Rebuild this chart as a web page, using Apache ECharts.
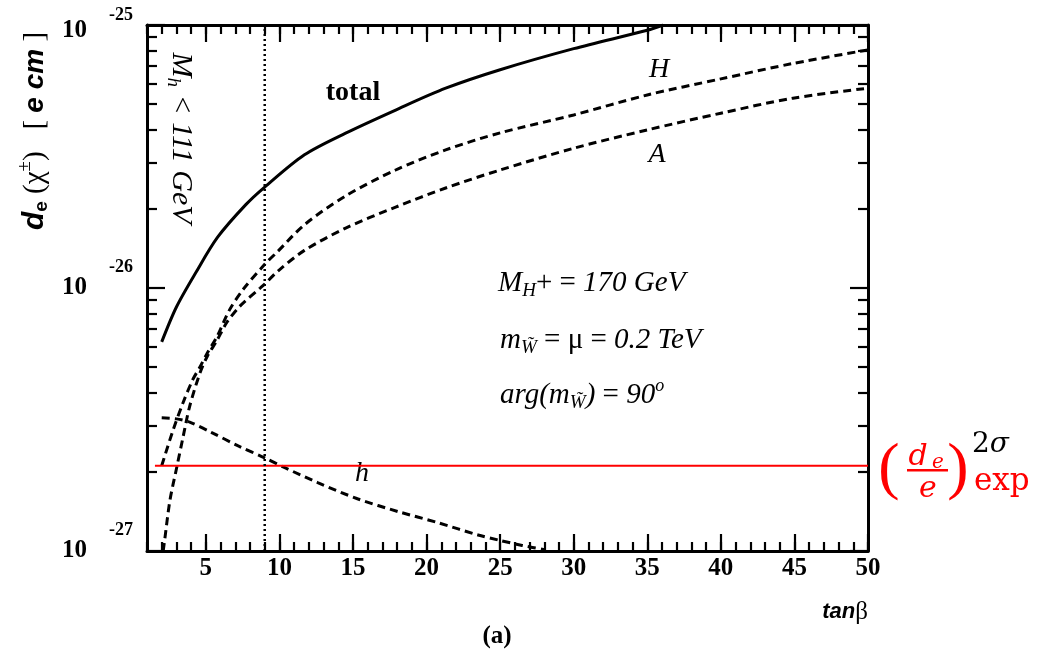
<!DOCTYPE html>
<html><head><meta charset="utf-8">
<script src="https://cdn.jsdelivr.net/npm/echarts@6/dist/echarts.min.js"></script>
<style>html,body{margin:0;padding:0;background:#fff}#c{width:1043px;height:663px}</style>
</head><body><div id="c"></div>
<script>
// ---- data ----
const xMajorTicks = [5, 10, 15, 20, 25, 30, 35, 40, 45, 50];
const yDecadeTicks = [1e-27, 1e-26, 1e-25];
const yMinorTicks = [2e-27, 3e-27, 4e-27, 5e-27, 6e-27, 7e-27, 8e-27, 9e-27,
                     2e-26, 3e-26, 4e-26, 5e-26, 6e-26, 7e-26, 8e-26, 9e-26];

const totalTanb = [2.0, 3.0, 4.3, 5.8, 7.7, 9.0, 11.7, 14.5, 17.9, 21.3, 25.0, 30.0, 35.0, 36.1];
const totalDe   = [6.24e-27, 8.47e-27, 1.14e-26, 1.56e-26, 2.07e-26, 2.42e-26, 3.21e-26, 3.88e-26,
                   4.75e-26, 5.75e-26, 6.76e-26, 8.13e-26, 9.55e-26, 1.0e-25];

const HTanb = [2.0, 2.77, 3.45, 4.1, 4.6, 5.1, 5.75, 6.6, 7.5, 9.0, 9.9, 11.7, 14.5, 17.9, 21.3, 25.0, 30.0, 35.0, 40.0, 44.9, 50.0];
const HDe   = [2.11e-27, 2.88e-27, 3.66e-27, 4.47e-27, 5.01e-27, 5.66e-27, 6.52e-27, 8.24e-27, 9.82e-27,
               1.23e-26, 1.38e-26, 1.74e-26, 2.24e-26, 2.81e-26, 3.35e-26, 3.89e-26, 4.55e-26, 5.42e-26,
               6.24e-26, 7.14e-26, 8.04e-26];

const ATanb = [2.1, 2.2, 2.56, 3.03, 3.45, 3.9, 4.6, 5.1, 5.75, 6.4, 7.3, 8.7, 9.0, 9.9, 11.7, 14.5, 17.9, 21.3, 25.0, 30.0, 35.0, 40.0, 44.9, 50.0];
const ADe   = [1.0e-27, 1.10e-27, 1.56e-27, 2.09e-27, 2.71e-27, 3.55e-27, 4.75e-27, 5.50e-27, 6.31e-27,
               7.36e-27, 8.51e-27, 1.0e-26, 1.035e-26, 1.16e-26, 1.39e-26, 1.69e-26, 2.03e-26, 2.40e-26,
               2.81e-26, 3.40e-26, 3.99e-26, 4.62e-26, 5.27e-26, 5.75e-26];

const hTanb = [2.0, 3.0, 3.9, 5.4, 7.2, 9.0, 10.4, 12.6, 15.3, 18.1, 20.8, 23.5, 24.9, 26.5, 28.1];
const hDe   = [3.21e-27, 3.18e-27, 3.09e-27, 2.82e-27, 2.51e-27, 2.26e-27, 2.07e-27, 1.82e-27,
               1.58e-27, 1.41e-27, 1.28e-27, 1.15e-27, 1.10e-27, 1.05e-27, 1.01e-27];

const expLimitTanb = [1.54, 50];
const expLimitDe = [2.11e-27, 2.11e-27];

const mhLimitTanb = [9, 9];
const mhLimitDe = [1e-27, 1e-25];

// ---- build ----
const pairs = (xs, ys) => xs.map((x, i) => [x, ys[i]]);
const SERIF = 'Liberation Serif';
const SANS = 'Liberation Sans';
const yMinExp = Math.log10(yDecadeTicks[0]);
const yMaxExp = Math.log10(yDecadeTicks[yDecadeTicks.length - 1]);
const yMinorExp = yMinorTicks.map(v => Math.log10(v));

function xAx(pos, major, showLabel) {
  const a = {
    type: 'value', min: 1, max: 50, position: pos, gridIndex: 0, offset: 0,
    axisLine: { show: major, onZero: false, lineStyle: { color: '#000', width: 3 } },
    splitLine: { show: false },
    axisTick: { show: true, inside: true, length: major ? 17 : 9, lineStyle: { color: '#000', width: 2.2 } },
    axisLabel: { show: showLabel }
  };
  if (major) {
    a.axisTick.customValues = xMajorTicks;
    a.axisLabel = { show: showLabel, customValues: xMajorTicks, fontFamily: SERIF, fontWeight: 'bold',
                    fontSize: 25, color: '#000', margin: 5 };
  } else {
    a.interval = 1;
  }
  return a;
}
// tick/label axes in decade (exponent) units; series use the hidden log axis (index 0)
function yAx(pos, major, showLabel) {
  const a = {
    type: 'value', min: yMinExp, max: yMaxExp, position: pos, gridIndex: 0, offset: 0,
    axisLine: { show: major, onZero: false, lineStyle: { color: '#000', width: 3 } },
    splitLine: { show: false },
    axisTick: { show: true, inside: true, length: major ? 18 : 10, lineStyle: { color: '#000', width: 2.2 } },
    axisLabel: { show: false }
  };
  if (major) a.interval = 1; else a.axisTick.customValues = yMinorExp;
  if (showLabel) {
    a.axisLabel = {
      show: true, margin: 14,
      formatter: v => {
        const e = Math.round(v);
        return e === yMaxExp ? '{bt|10}{g|}{st|' + e + '}' : '{b|10}{g|}{s|' + e + '}';
      },
      rich: {
        b: { fontFamily: SERIF, fontWeight: 'bold', fontSize: 25, color: '#000' },
        bt: { fontFamily: SERIF, fontWeight: 'bold', fontSize: 25, color: '#000', padding: [12, 0, 0, 0] },
        g: { width: 22 },
        s: { fontFamily: SERIF, fontWeight: 'bold', fontSize: 18, color: '#000', padding: [0, 0, 42, 0] },
        st: { fontFamily: SERIF, fontWeight: 'bold', fontSize: 18, color: '#000', padding: [0, 0, 20, 0] }
      }
    };
  }
  return a;
}

const dash = [8, 5];
const option = {
  animation: false,
  backgroundColor: '#fff',
  grid: { left: 147, top: 25, width: 721, height: 526, containLabel: false, outerBoundsMode: 'none' },
  xAxis: [xAx('bottom', true, true), xAx('bottom', false, false), xAx('top', true, false), xAx('top', false, false)],
  yAxis: [
    { type: 'log', logBase: 10, min: yDecadeTicks[0], max: yDecadeTicks[yDecadeTicks.length - 1], gridIndex: 0, show: false },
    yAx('left', true, true), yAx('left', false, false), yAx('right', true, false), yAx('right', false, false)
  ],
  series: [
    { name: 'total', type: 'line', data: pairs(totalTanb, totalDe), showSymbol: false, smooth: 0.3,
      lineStyle: { color: '#000', width: 3 } },
    { name: 'H', type: 'line', data: pairs(HTanb, HDe), showSymbol: false, smooth: 0.3,
      lineStyle: { color: '#000', width: 3, type: dash } },
    { name: 'A', type: 'line', data: pairs(ATanb, ADe), showSymbol: false, smooth: 0.3,
      lineStyle: { color: '#000', width: 3, type: dash } },
    { name: 'h', type: 'line', data: pairs(hTanb, hDe), showSymbol: false, smooth: 0.3,
      lineStyle: { color: '#000', width: 3, type: dash } },
    { name: 'exp', type: 'line', data: pairs(expLimitTanb, expLimitDe), showSymbol: false,
      lineStyle: { color: '#ff0000', width: 2 } },
    { name: 'Mh', type: 'line', data: pairs(mhLimitTanb, mhLimitDe), showSymbol: false,
      lineStyle: { color: '#000', width: 2.5, type: [2, 3] } }
  ],
  graphic: [
    // y axis title (rotated)
    { type: 'text', x: 35, y: 131, rotation: Math.PI / 2,
      style: { text: '{d|d}{sb|e}{n| (χ}{sp|±}{n|)   [ }{ec|e cm}{n| ]}', align: 'center', verticalAlign: 'middle',
        rich: {
          d: { fontFamily: SANS, fontWeight: 'bold', fontStyle: 'italic', fontSize: 30, fill: '#000' },
          sb: { fontFamily: SANS, fontWeight: 'bold', fontSize: 19, fill: '#000', padding: [14, 0, 0, 0] },
          n: { fontFamily: SERIF, fontSize: 29, fill: '#000' },
          sp: { fontFamily: SERIF, fontSize: 19, fill: '#000', padding: [0, 0, 20, 0] },
          ec: { fontFamily: SANS, fontWeight: 'bold', fontStyle: 'italic', fontSize: 28, fill: '#000' }
        } } },
    // x axis title
    { type: 'text', x: 868, y: 612,
      style: { text: '{t|tan}{b|β}', align: 'right', verticalAlign: 'middle',
        rich: {
          t: { fontFamily: SANS, fontWeight: 'bold', fontStyle: 'italic', fontSize: 22, fill: '#000' },
          b: { fontFamily: SERIF, fontSize: 25, fill: '#000' }
        } } },
    { type: 'text', x: 497, y: 637,
      style: { text: '(a)', align: 'center', verticalAlign: 'middle', font: 'bold 25px "Liberation Serif"', fill: '#000' } },
    // curve labels
    { type: 'text', x: 353, y: 93,
      style: { text: 'total', align: 'center', verticalAlign: 'middle', font: 'bold 28px "Liberation Serif"', fill: '#000' } },
    { type: 'text', x: 659, y: 70,
      style: { text: 'H', align: 'center', verticalAlign: 'middle', font: 'italic 28px "Liberation Serif"', fill: '#000' } },
    { type: 'text', x: 657, y: 155,
      style: { text: 'A', align: 'center', verticalAlign: 'middle', font: 'italic 28px "Liberation Serif"', fill: '#000' } },
    { type: 'text', x: 362, y: 474,
      style: { text: 'h', align: 'center', verticalAlign: 'middle', font: 'italic 28px "Liberation Serif"', fill: '#000' } },
    // vertical M_h label
    { type: 'text', x: 181, y: 138, rotation: -Math.PI / 2,
      style: { text: '{i|M}{sb|h}{i| < 111 GeV}', align: 'center', verticalAlign: 'middle',
        rich: {
          i: { fontFamily: SERIF, fontStyle: 'italic', fontSize: 30, fill: '#000' },
          sb: { fontFamily: SERIF, fontStyle: 'italic', fontSize: 19, fill: '#000', padding: [16, 0, 0, 0] }
        } } },
    // parameter block
    { type: 'text', x: 498, y: 283,
      style: { text: '{i|M}{sb|H}{n|+ = }{i|170 GeV}', align: 'left', verticalAlign: 'middle',
        rich: {
          i: { fontFamily: SERIF, fontStyle: 'italic', fontSize: 29, fill: '#000' },
          n: { fontFamily: SERIF, fontSize: 29, fill: '#000' },
          sb: { fontFamily: SERIF, fontStyle: 'italic', fontSize: 19, fill: '#000', padding: [16, 0, 0, 0] }
        } } },
    { type: 'text', x: 500, y: 340,
      style: { text: '{i|m}{sb|W\u0303}{n| = μ = }{i|0.2 TeV}', align: 'left', verticalAlign: 'middle',
        rich: {
          i: { fontFamily: SERIF, fontStyle: 'italic', fontSize: 29, fill: '#000' },
          n: { fontFamily: SERIF, fontSize: 29, fill: '#000' },
          sb: { fontFamily: SERIF, fontStyle: 'italic', fontSize: 19, fill: '#000', padding: [16, 0, 0, 0] }
        } } },
    { type: 'text', x: 500, y: 395,
      style: { text: '{i|arg(m}{sb|W\u0303}{i|)}{n| = }{i|90}{sp|o}', align: 'left', verticalAlign: 'middle',
        rich: {
          i: { fontFamily: SERIF, fontStyle: 'italic', fontSize: 29, fill: '#000' },
          n: { fontFamily: SERIF, fontSize: 29, fill: '#000' },
          sb: { fontFamily: SERIF, fontStyle: 'italic', fontSize: 19, fill: '#000', padding: [16, 0, 0, 0] },
          sp: { fontFamily: SERIF, fontStyle: 'italic', fontSize: 18, fill: '#000', padding: [0, 0, 18, 0] }
        } } },
    // experimental bound label
    { type: 'text', x: 889, y: 470,
      style: { text: '(', align: 'center', verticalAlign: 'middle', font: '64px "Liberation Serif"', fill: '#ff0000' } },
    { type: 'text', x: 918, y: 457,
      style: { text: 'd', align: 'center', verticalAlign: 'middle', font: 'italic 30px "DejaVu Serif"', fill: '#ff0000' } },
    { type: 'text', x: 938, y: 463,
      style: { text: 'e', align: 'center', verticalAlign: 'middle', font: 'italic 20px "DejaVu Serif"', fill: '#ff0000' } },
    { type: 'rect', shape: { x: 907, y: 469, width: 41, height: 2.5 }, style: { fill: '#ff0000' } },
    { type: 'text', x: 928, y: 489,
      style: { text: 'e', align: 'center', verticalAlign: 'middle', font: 'italic 30px "DejaVu Serif"', fill: '#ff0000' } },
    { type: 'text', x: 958, y: 470,
      style: { text: ')', align: 'center', verticalAlign: 'middle', font: '64px "Liberation Serif"', fill: '#ff0000' } },
    { type: 'text', x: 972, y: 445,
      style: { text: '{n|2}{g|σ}', align: 'left', verticalAlign: 'middle',
        rich: {
          n: { fontFamily: 'DejaVu Serif', fontSize: 28, fill: '#000' },
          g: { fontFamily: 'DejaVu Serif', fontStyle: 'italic', fontSize: 28, fill: '#000' }
        } } },
    { type: 'text', x: 974, y: 482,
      style: { text: 'exp', align: 'left', verticalAlign: 'middle', font: '31px "DejaVu Serif"', fill: '#ff0000' } }
  ]
};
const chart = echarts.init(document.getElementById('c'), null, { renderer: 'canvas' });
chart.setOption(option);
</script></body></html>
